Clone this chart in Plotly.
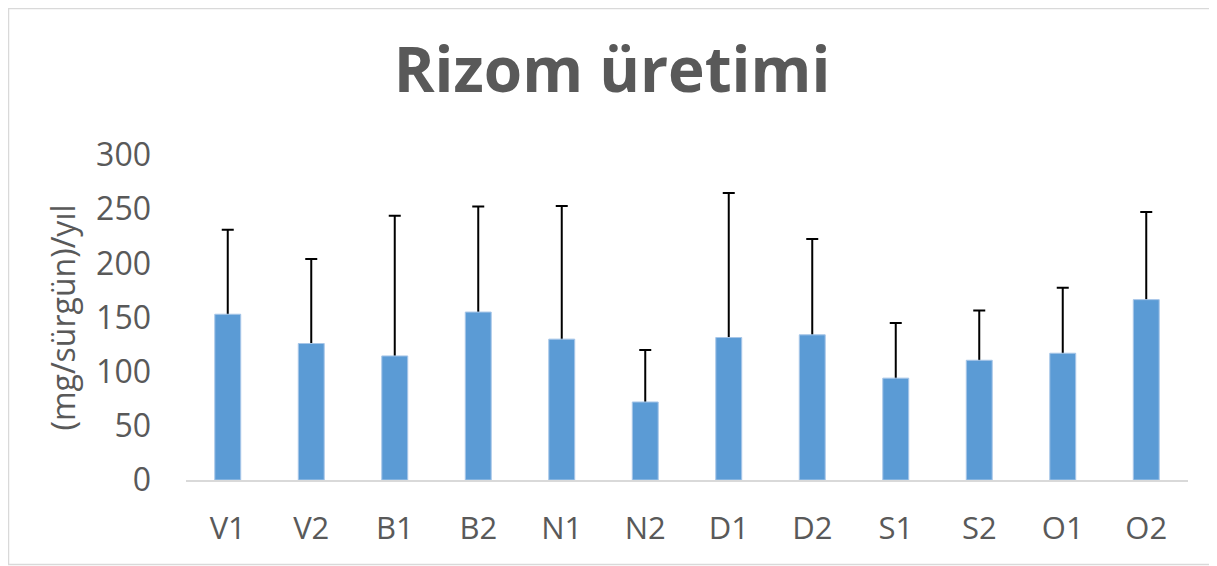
import plotly.graph_objects as go

categories = ["V1", "V2", "B1", "B2", "N1", "N2", "D1", "D2", "S1", "S2", "O1", "O2"]
means = [153, 126, 114.5, 155, 130, 72, 131.5, 134, 94, 110.5, 117, 166.5]
upper = [231, 204, 244, 252.5, 253, 120, 265, 222.5, 145, 156.5, 177.5, 247.5]
err_plus = [u - m for u, m in zip(upper, means)]
y_ticks = [0, 50, 100, 150, 200, 250, 300]

# page body has an 8px margin, so the figure is drawn 8px in from the window edge
W, H = 1209, 558
L, R, T, B = 178, 1180, 147, 472

fig = go.Figure()
# error bars (drawn first so the visible bars hide the lower cap)
fig.add_trace(go.Bar(
    x=categories, y=means,
    marker=dict(color="rgba(0,0,0,0)"),
    error_y=dict(type="data", array=err_plus, symmetric=False,
                 arrayminus=[2] * len(means),
                 color="black", thickness=2, width=6),
    hoverinfo="skip",
))
fig.add_trace(go.Bar(
    x=categories, y=means,
    marker=dict(color="#5B9BD5", line=dict(color="#A7C6E8", width=1)),
))

font_fam = "Open Sans, Lato, sans-serif"
fig.update_layout(
    width=W, height=H,
    margin=dict(l=L, r=W - R, t=T, b=H - B),
    plot_bgcolor="white", paper_bgcolor="white",
    barmode="overlay",
    bargap=0.69,
    showlegend=False,
    title=dict(text="<b>Rizom üretimi</b>", x=604 / W, xanchor="center",
               y=1 - 62 / H, yanchor="middle", yref="container",
               font=dict(family=font_fam, size=62, color="#595959")),
    font=dict(family=font_fam, color="#595959"),
)
fig.update_xaxes(showline=True, linecolor="#D9D9D9", linewidth=2, showgrid=False,
                 tickfont=dict(size=31, color="#595959"), ticks="", ticklabelstandoff=20)
fig.update_yaxes(range=[0, 300], tickvals=y_ticks, showgrid=False, showline=False, zeroline=False,
                 tickfont=dict(size=32, color="#595959"), ticks="", ticklabelstandoff=34,
                 title=dict(text="(mg/sürgün)/yıl", font=dict(size=32, color="#595959"), standoff=10))

pw, ph = R - L, B - T
fig.add_shape(type="rect", xref="paper", yref="paper",
              x0=(0.5 - L) / pw, x1=(W - 1.5 - L) / pw,
              y0=(B - (H - 1.5)) / ph, y1=(B - 0.5) / ph,
              line=dict(color="#D9D9D9", width=1.5), fillcolor="rgba(0,0,0,0)", layer="below")

fig.write_html("out.html")
